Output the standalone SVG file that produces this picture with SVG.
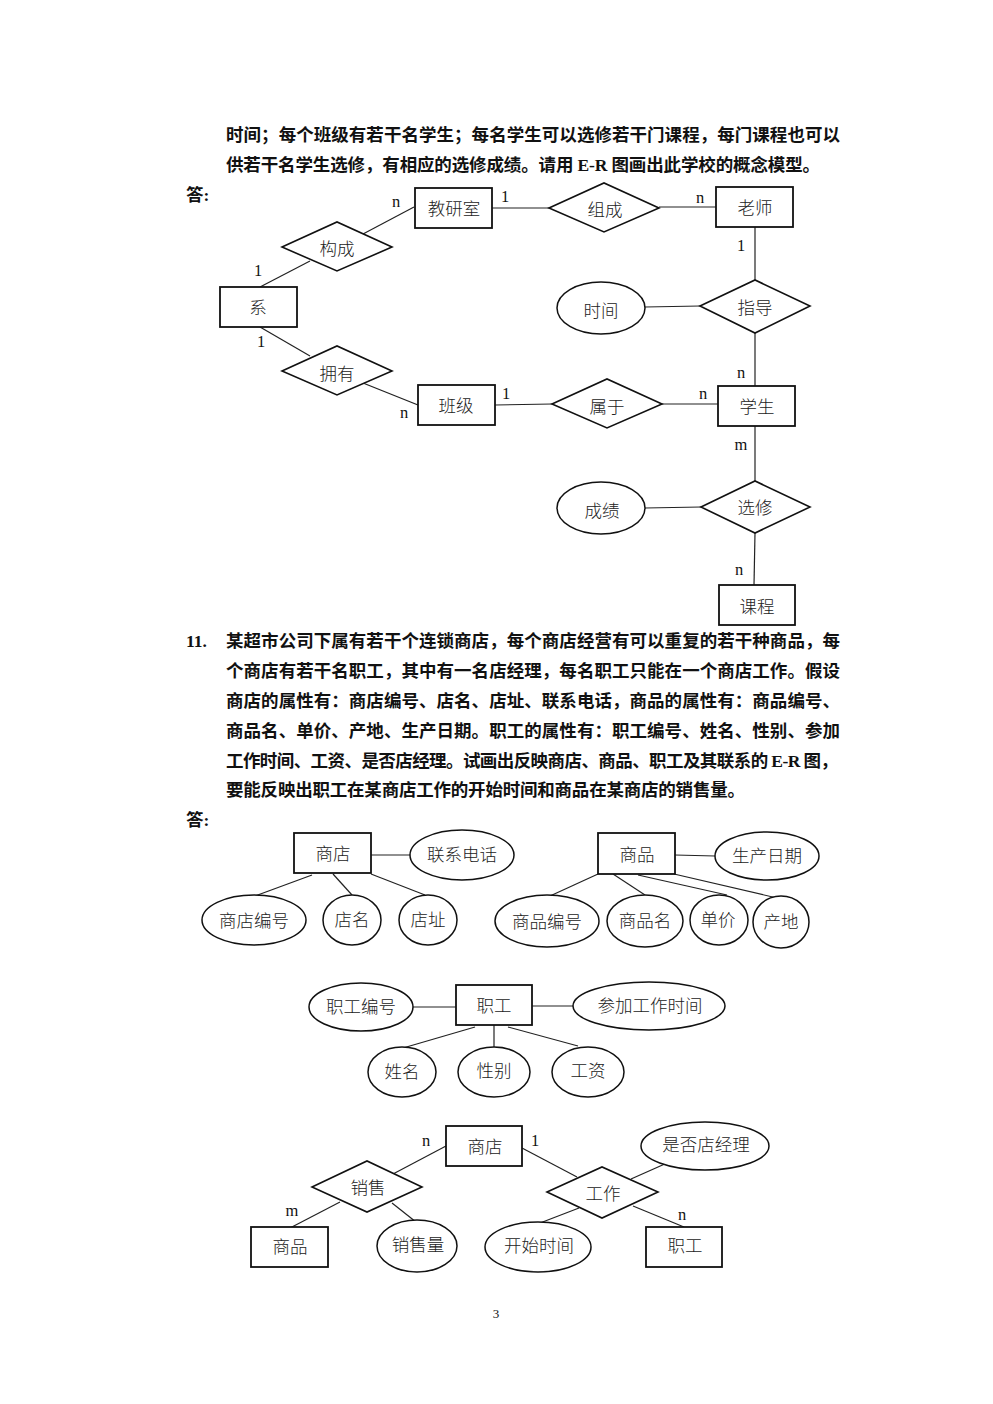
<svg xmlns="http://www.w3.org/2000/svg" width="993" height="1404" viewBox="0 0 993 1404">
<style>
.p{font-family:"Liberation Serif","Noto Sans CJK SC",serif;font-size:17.5px;font-weight:bold;fill:#111}
.lb{font-family:"Liberation Serif","Noto Sans CJK SC",serif;font-size:17.5px;font-weight:300;fill:#222;text-anchor:middle;dominant-baseline:central}
.c{font-family:"Liberation Serif",serif;font-size:16.5px;fill:#111;text-anchor:middle;dominant-baseline:central}
.e{fill:#fff;stroke:#111;stroke-width:1.8}
.r{fill:#fff;stroke:#111;stroke-width:1.6}
.el{fill:#fff;stroke:#111;stroke-width:1.5}
.ln{stroke:#222;stroke-width:1.2;fill:none}
</style>
<rect width="993" height="1404" fill="#fff"/>

<g id="text">
<text class="p" x="226" y="141" textLength="614" lengthAdjust="spacing">时间；每个班级有若干名学生；每名学生可以选修若干门课程，每门课程也可以</text>
<text class="p" x="226" y="171" textLength="594" lengthAdjust="spacing">供若干名学生选修，有相应的选修成绩。请用 E-R 图画出此学校的概念模型。</text>
<text class="p" x="186" y="201">答:</text>
<text class="p" x="186" y="647">11.</text>
<text class="p" x="226" y="647" textLength="614" lengthAdjust="spacing">某超市公司下属有若干个连锁商店，每个商店经营有可以重复的若干种商品，每</text>
<text class="p" x="226" y="677" textLength="614" lengthAdjust="spacing">个商店有若干名职工，其中有一名店经理，每名职工只能在一个商店工作。假设</text>
<text class="p" x="226" y="707" textLength="614" lengthAdjust="spacing">商店的属性有：商店编号、店名、店址、联系电话，商品的属性有：商品编号、</text>
<text class="p" x="226" y="737" textLength="614" lengthAdjust="spacing">商品名、单价、产地、生产日期。职工的属性有：职工编号、姓名、性别、参加</text>
<text class="p" x="226" y="767" textLength="612" lengthAdjust="spacing">工作时间、工资、是否店经理。试画出反映商店、商品、职工及其联系的 E-R 图，</text>
<text class="p" x="226" y="796" textLength="519" lengthAdjust="spacing">要能反映出职工在某商店工作的开始时间和商品在某商店的销售量。</text>
<text class="p" x="186" y="826">答:</text>
<text x="496" y="1318" style="font-family:'Liberation Serif',serif;font-size:13px;text-anchor:middle;fill:#111">3</text>
</g>

<g id="connectors">
<line class="ln" x1="492" y1="208" x2="549" y2="208"/>
<line class="ln" x1="659" y1="207" x2="716" y2="207"/>
<line class="ln" x1="414" y1="207" x2="363" y2="234"/>
<line class="ln" x1="260" y1="287" x2="310" y2="261"/>
<line class="ln" x1="260" y1="327" x2="310" y2="356"/>
<line class="ln" x1="363" y1="383" x2="418" y2="405"/>
<line class="ln" x1="495" y1="405" x2="552" y2="404"/>
<line class="ln" x1="662" y1="404" x2="718" y2="404"/>
<line class="ln" x1="755" y1="227" x2="755" y2="280"/>
<line class="ln" x1="755" y1="333" x2="755" y2="386"/>
<line class="ln" x1="645" y1="307" x2="700" y2="306"/>
<line class="ln" x1="755" y1="426" x2="755" y2="481"/>
<line class="ln" x1="645" y1="508" x2="701" y2="507"/>
<line class="ln" x1="755" y1="533" x2="754" y2="585"/>
<line class="ln" x1="371" y1="855" x2="410" y2="855"/>
<line class="ln" x1="312" y1="875" x2="255" y2="896"/>
<line class="ln" x1="333" y1="874" x2="352" y2="895"/>
<line class="ln" x1="371" y1="874" x2="425" y2="895"/>
<line class="ln" x1="675" y1="855" x2="715" y2="856"/>
<line class="ln" x1="598" y1="874" x2="550" y2="896"/>
<line class="ln" x1="613" y1="874" x2="645" y2="895"/>
<line class="ln" x1="638" y1="875" x2="727" y2="895"/>
<line class="ln" x1="674" y1="874" x2="777" y2="898"/>
<line class="ln" x1="413" y1="1007" x2="456" y2="1007"/>
<line class="ln" x1="532" y1="1006" x2="573" y2="1006"/>
<line class="ln" x1="475" y1="1027" x2="403" y2="1048"/>
<line class="ln" x1="494" y1="1025" x2="494" y2="1047"/>
<line class="ln" x1="508" y1="1027" x2="578" y2="1046"/>
<line class="ln" x1="446" y1="1146" x2="393" y2="1174"/>
<line class="ln" x1="522" y1="1148" x2="577" y2="1177"/>
<line class="ln" x1="340" y1="1202" x2="290" y2="1228"/>
<line class="ln" x1="392" y1="1203" x2="416" y2="1222"/>
<line class="ln" x1="631" y1="1179" x2="667" y2="1163"/>
<line class="ln" x1="579" y1="1208" x2="540" y2="1223"/>
<line class="ln" x1="633" y1="1206" x2="684" y2="1227"/>
<text class="c" x="396" y="201">n</text>
<text class="c" x="505" y="196">1</text>
<text class="c" x="700" y="197">n</text>
<text class="c" x="258" y="270">1</text>
<text class="c" x="261" y="341">1</text>
<text class="c" x="404" y="412">n</text>
<text class="c" x="506" y="393">1</text>
<text class="c" x="703" y="393">n</text>
<text class="c" x="741" y="245">1</text>
<text class="c" x="741" y="372">n</text>
<text class="c" x="741" y="444">m</text>
<text class="c" x="739" y="569">n</text>
<text class="c" x="426" y="1140">n</text>
<text class="c" x="535" y="1140">1</text>
<text class="c" x="292" y="1210">m</text>
<text class="c" x="682" y="1214">n</text>
</g>

<g id="n-jiaoyanshi"><rect class="e" x="415" y="188" width="77" height="40"/><text class="lb" x="454" y="209">教研室</text></g>
<g id="n-zucheng"><polygon class="r" points="549,208 604,183 659,208 604,232"/><text class="lb" x="605" y="210">组成</text></g>
<g id="n-laoshi"><rect class="e" x="716" y="187" width="77" height="40"/><text class="lb" x="755" y="208">老师</text></g>
<g id="n-goucheng"><polygon class="r" points="282,247 337,222 392,247 337,271"/><text class="lb" x="337" y="249">构成</text></g>
<g id="n-xi"><rect class="e" x="220" y="287" width="77" height="40"/><text class="lb" x="258" y="308">系</text></g>
<g id="n-yongyou"><polygon class="r" points="282,371 337,346 392,371 337,395"/><text class="lb" x="337" y="374">拥有</text></g>
<g id="n-banji"><rect class="e" x="418" y="385" width="77" height="40"/><text class="lb" x="456" y="406">班级</text></g>
<g id="n-shuyu"><polygon class="r" points="552,404 607,379 662,404 607,428"/><text class="lb" x="607" y="407">属于</text></g>
<g id="n-xuesheng"><rect class="e" x="718" y="386" width="77" height="40"/><text class="lb" x="757" y="407">学生</text></g>
<g id="n-zhidao"><polygon class="r" points="700,306 755,280 810,306 755,333"/><text class="lb" x="755" y="308">指导</text></g>
<g id="n-shijian"><ellipse class="el" cx="601" cy="308" rx="44" ry="26"/><text class="lb" x="601" y="311">时间</text></g>
<g id="n-xuanxiu"><polygon class="r" points="701,507 755,481 810,507 755,533"/><text class="lb" x="755" y="508">选修</text></g>
<g id="n-chengji"><ellipse class="el" cx="601" cy="508" rx="44" ry="26"/><text class="lb" x="602" y="511">成绩</text></g>
<g id="n-kecheng"><rect class="e" x="719" y="585" width="76" height="40"/><text class="lb" x="757" y="607">课程</text></g>

<g id="a-shangdian"><rect class="e" x="294" y="833" width="77" height="40"/><text class="lb" x="333" y="854">商店</text></g>
<g id="a-lianxidianhua"><ellipse class="el" cx="462" cy="855" rx="52" ry="25"/><text class="lb" x="462" y="855">联系电话</text></g>
<g id="a-shangdianbianhao"><ellipse class="el" cx="254" cy="920" rx="52" ry="25"/><text class="lb" x="254" y="921">商店编号</text></g>
<g id="a-dianming"><ellipse class="el" cx="352" cy="920" rx="29" ry="25"/><text class="lb" x="352" y="920">店名</text></g>
<g id="a-dianzhi"><ellipse class="el" cx="428" cy="920" rx="29" ry="25"/><text class="lb" x="428" y="920">店址</text></g>

<g id="b-shangpin"><rect class="e" x="598" y="833" width="77" height="41"/><text class="lb" x="637" y="855">商品</text></g>
<g id="b-shengchanriqi"><ellipse class="el" cx="767" cy="856" rx="52" ry="24"/><text class="lb" x="767" y="856">生产日期</text></g>
<g id="b-shangpinbianhao"><ellipse class="el" cx="547" cy="921" rx="52" ry="26"/><text class="lb" x="547" y="922">商品编号</text></g>
<g id="b-shangpinming"><ellipse class="el" cx="645" cy="921" rx="38" ry="26"/><text class="lb" x="645" y="921">商品名</text></g>
<g id="b-danjia"><ellipse class="el" cx="719" cy="920" rx="29" ry="25"/><text class="lb" x="718" y="920">单价</text></g>
<g id="b-chandi"><ellipse class="el" cx="781" cy="922" rx="28" ry="26"/><text class="lb" x="781" y="922">产地</text></g>

<g id="c-zhigong"><rect class="e" x="456" y="985" width="76" height="40"/><text class="lb" x="494" y="1006">职工</text></g>
<g id="c-zhigongbianhao"><ellipse class="el" cx="361" cy="1007" rx="52" ry="24"/><text class="lb" x="361" y="1007">职工编号</text></g>
<g id="c-canjiagongzuoshijian"><ellipse class="el" cx="649" cy="1006" rx="76" ry="24"/><text class="lb" x="650" y="1006">参加工作时间</text></g>
<g id="c-xingming"><ellipse class="el" cx="402" cy="1072" rx="34" ry="25"/><text class="lb" x="402" y="1072">姓名</text></g>
<g id="c-xingbie"><ellipse class="el" cx="494" cy="1072" rx="36" ry="25"/><text class="lb" x="494" y="1071">性别</text></g>
<g id="c-gongzi"><ellipse class="el" cx="588" cy="1072" rx="36" ry="25"/><text class="lb" x="588" y="1071">工资</text></g>

<g id="d-shangdian"><rect class="e" x="446" y="1126" width="76" height="40"/><text class="lb" x="485" y="1147">商店</text></g>
<g id="d-shifoudianjingli"><ellipse class="el" cx="705" cy="1146" rx="64" ry="24"/><text class="lb" x="706" y="1145">是否店经理</text></g>
<g id="d-xiaoshou"><polygon class="r" points="312,1187 367,1161 422,1187 367,1212"/><text class="lb" x="368" y="1188">销售</text></g>
<g id="d-gongzuo"><polygon class="r" points="547,1192 602,1167 658,1192 602,1218"/><text class="lb" x="603" y="1194">工作</text></g>
<g id="d-shangpin"><rect class="e" x="251" y="1227" width="77" height="40"/><text class="lb" x="290" y="1247">商品</text></g>
<g id="d-xiaoshouliang"><ellipse class="el" cx="417" cy="1246" rx="40" ry="26"/><text class="lb" x="418" y="1245">销售量</text></g>
<g id="d-kaishishijian"><ellipse class="el" cx="538" cy="1247" rx="53" ry="25"/><text class="lb" x="539" y="1246">开始时间</text></g>
<g id="d-zhigong"><rect class="e" x="646" y="1227" width="76" height="40"/><text class="lb" x="685" y="1246">职工</text></g>
</svg>
